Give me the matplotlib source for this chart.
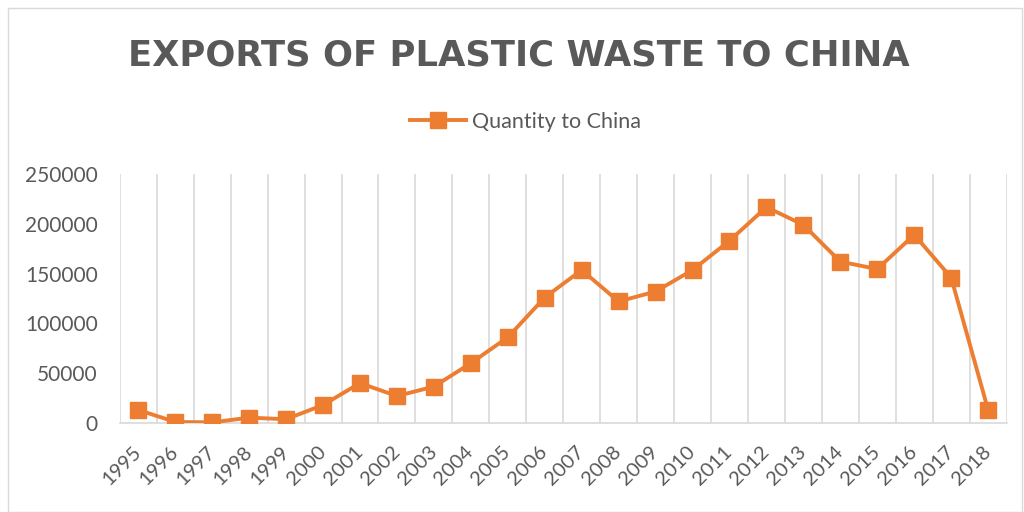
import matplotlib
matplotlib.use("Agg")
import matplotlib.pyplot as plt
from matplotlib.patches import Rectangle
import numpy as np

years = ["1995", "1996", "1997", "1998", "1999", "2000", "2001", "2002", "2003", "2004",
         "2005", "2006", "2007", "2008", "2009", "2010", "2011", "2012", "2013", "2014",
         "2015", "2016", "2017", "2018"]
quantity = [13000, 1000, 500, 5300, 3700, 18000, 40000, 27000, 36500, 60000,
            86000, 126000, 153600, 122000, 132000, 153600, 183000, 216800, 199000, 162000,
            154600, 189000, 146000, 13000]
yticks = [0, 50000, 100000, 150000, 200000, 250000]

plt.rcParams['font.family'] = ['Lato', 'DejaVu Sans']
TEXT = '#595959'
ORANGE = '#ED7D31'

fig = plt.figure(figsize=(10.24, 5.12), dpi=100)
fig.patches.append(Rectangle((0.008, 0.0), 0.99, 0.985, transform=fig.transFigure,
                             fill=False, edgecolor='#D9D9D9', linewidth=1))
ax = fig.add_axes([0.117, 0.174, 0.866, 0.486])

x = np.arange(len(years))
ax.plot(x, quantity, color=ORANGE, linewidth=2.8, marker='s', markersize=12,
        label='Quantity to China', zorder=3)

ax.set_xlim(-0.5, len(years) - 0.5)
ax.set_ylim(0, 250000)
ax.set_yticks(yticks)
ax.set_yticklabels([str(v) for v in yticks], fontsize=15, color=TEXT)
ax.set_xticks(x)
ax.set_xticklabels(years, rotation=45, ha='right', va='center', rotation_mode='anchor',
                   fontsize=14.5, color=TEXT)
ax.set_xticks(np.arange(-0.5, len(years), 1.0), minor=True)
ax.grid(False)
ax.grid(True, which='minor', axis='x', color='#D9D9D9', linewidth=1.2)
ax.tick_params(axis='both', which='both', length=0)
ax.tick_params(axis='y', pad=16)
ax.tick_params(axis='x', pad=19)
for s in ['top', 'right', 'left']:
    ax.spines[s].set_visible(False)
ax.spines['bottom'].set_color('#D9D9D9')
ax.spines['bottom'].set_linewidth(1.2)

fig.text(0.507, 0.892, 'EXPORTS OF PLASTIC WASTE TO CHINA', ha='center', va='center',
         fontsize=25.5, fontweight='bold', color=TEXT, family=['DejaVu Sans'])
leg = fig.legend(loc='center', bbox_to_anchor=(0.513, 0.762), frameon=False,
                 fontsize=15.5, handlelength=2.6, handletextpad=0.3)
for t in leg.get_texts():
    t.set_color(TEXT)

fig.savefig('out.png', dpi=100)
